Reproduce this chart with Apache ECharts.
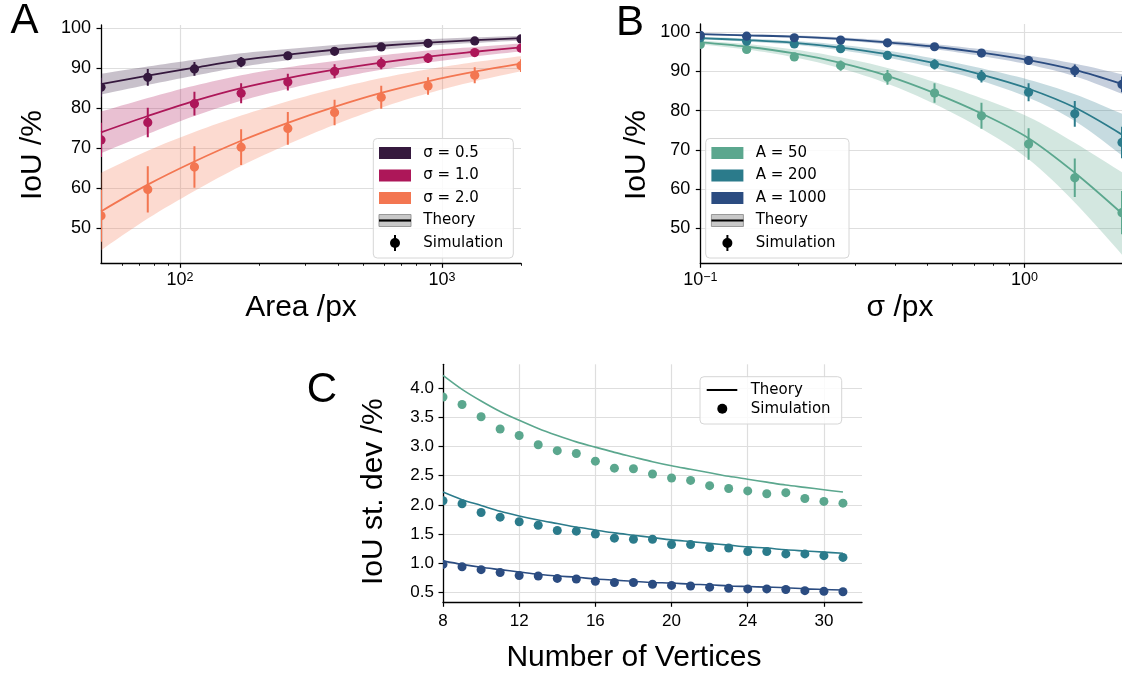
<!DOCTYPE html>
<html>
<head>
<meta charset="utf-8">
<title>IoU panels</title>
<script src="https://cdn.jsdelivr.net/npm/echarts@6.0.0/dist/echarts.min.js"></script>
<style>
  html, body { margin: 0; padding: 0; background: #ffffff; }
  #chart { width: 1122px; height: 676px; }
</style>
</head>
<body>
<div id="chart"></div>
<script>
// ---- panel A : IoU against area, one curve per sigma ----
const areaX = [50, 75.4, 113.6, 171.2, 258, 389, 586, 884, 1332, 2000];
const sigmaNames = ['σ = 0.5', 'σ = 1.0', 'σ = 2.0'];

const simA05 = [85.2, 87.7, 89.8, 91.5, 93.1, 94.2, 95.3, 96.2, 96.8, 97.3];
const errA05 = [2.4, 2.1, 1.7, 1.3, 1.0, 0.8, 0.6, 0.5, 0.4, 0.4];
const theoryA05 = [86.0, 88.1, 90.1, 92.0, 93.4, 94.6, 95.6, 96.4, 97.0, 97.5];
const lowA05 = [83.4, 85.8, 88.1, 90.3, 92.0, 93.4, 94.6, 95.6, 96.3, 96.9];
const highA05 = [88.6, 90.4, 92.1, 93.7, 94.8, 95.8, 96.6, 97.2, 97.7, 98.1];

const simA10 = [72.0, 76.4, 81.1, 83.7, 86.5, 89.2, 91.2, 92.5, 93.9, 95.0];
const errA10 = [4.3, 3.7, 3.0, 2.5, 2.1, 1.75, 1.5, 1.25, 0.9, 0.7];
const theoryA10 = [73.9, 78.0, 81.8, 85.0, 87.5, 89.6, 91.4, 92.9, 94.1, 95.2];
const lowA10 = [68.7, 73.5, 78.0, 81.8, 84.8, 87.4, 89.6, 91.4, 92.9, 94.2];
const highA10 = [79.1, 82.5, 85.6, 88.2, 90.2, 91.8, 93.2, 94.4, 95.3, 96.2];

const simA20 = [53.0, 59.6, 65.2, 70.2, 74.9, 78.9, 82.7, 85.5, 88.2, 90.6];
const errA20 = [6.5, 5.8, 5.2, 4.5, 4.1, 3.2, 2.9, 2.2, 2.0, 1.6];
const theoryA20 = [54.1, 60.8, 66.6, 71.8, 76.3, 80.3, 83.8, 86.7, 89.1, 91.1];
const lowA20 = [44.4, 52.3, 59.2, 65.5, 70.9, 75.8, 80.1, 83.7, 86.7, 89.2];
const highA20 = [63.8, 69.3, 74.0, 78.1, 81.7, 84.8, 87.5, 89.7, 91.5, 93.0];

// ---- panel B : IoU against sigma, one curve per area ----
const sigmaX = [0.1, 0.139, 0.195, 0.271, 0.378, 0.528, 0.737, 1.03, 1.43, 2.0];
const areaNames = ['A = 50', 'A = 200', 'A = 1000'];

const simB50 = [96.9, 95.6, 93.7, 91.5, 88.5, 84.5, 78.7, 71.5, 62.9, 54.0];
const errB50 = [0.5, 0.5, 0.7, 1.3, 1.9, 2.5, 3.3, 4.0, 4.9, 5.5];
const theoryB50 = [97.4, 96.3, 94.6, 92.2, 88.9, 84.5, 79.3, 73.0, 64.2, 53.8];
const lowB50 = [96.9, 95.6, 93.6, 90.8, 86.9, 81.7, 75.4, 67.6, 56.6, 43.3];
const highB50 = [97.9, 97.0, 95.6, 93.6, 90.9, 87.3, 83.2, 78.4, 71.8, 64.3];

const simB200 = [98.6, 97.7, 97.0, 95.8, 94.1, 91.8, 88.8, 84.7, 79.2, 71.9];
const errB200 = [0.4, 0.4, 0.5, 0.6, 0.8, 1.3, 1.6, 2.3, 3.3, 4.0];
const theoryB200 = [98.5, 98.0, 97.3, 96.1, 94.4, 92.1, 89.2, 85.6, 80.8, 73.9];
const lowB200 = [98.2, 97.6, 96.8, 95.4, 93.5, 90.9, 87.6, 83.3, 77.4, 68.6];
const highB200 = [98.8, 98.4, 97.8, 96.8, 95.3, 93.3, 90.8, 87.9, 84.2, 79.2];

const simB1000 = [99.2, 99.0, 98.6, 98.0, 97.3, 96.3, 94.7, 92.8, 90.2, 86.7];
const errB1000 = [0.3, 0.3, 0.3, 0.4, 0.5, 0.6, 0.8, 1.1, 1.6, 2.0];
const theoryB1000 = [99.5, 99.2, 98.9, 98.3, 97.4, 96.3, 94.8, 92.9, 90.4, 86.8];
const lowB1000 = [99.3, 98.95, 98.6, 97.9, 96.9, 95.65, 93.95, 91.75, 88.8, 84.3];
const highB1000 = [99.7, 99.45, 99.2, 98.7, 97.9, 96.95, 95.65, 94.05, 92.0, 89.3];

// ---- panel C : st. dev against number of vertices ----
const vertices = [8, 9, 10, 11, 12, 13, 14, 15, 16, 17, 18, 19, 20, 21, 22, 23, 24, 25, 26, 27, 28, 29];
const vertexTickPos = [8, 12, 16, 20, 24, 28];
const vertexTickLabels = ['8', '12', '16', '20', '24', '30'];

const simC50 = [3.85, 3.72, 3.51, 3.30, 3.19, 3.03, 2.93, 2.88, 2.75, 2.63, 2.62, 2.53, 2.46, 2.42, 2.33, 2.28, 2.24, 2.19, 2.21, 2.11, 2.06, 2.03];
const theoryC50 = [4.22, 3.98, 3.78, 3.60, 3.45, 3.31, 3.19, 3.08, 2.99, 2.90, 2.82, 2.74, 2.67, 2.61, 2.55, 2.49, 2.44, 2.39, 2.34, 2.30, 2.26, 2.22];
const simC200 = [2.07, 2.02, 1.87, 1.79, 1.71, 1.65, 1.56, 1.55, 1.50, 1.43, 1.41, 1.41, 1.32, 1.32, 1.27, 1.26, 1.20, 1.20, 1.16, 1.16, 1.13, 1.10];
const theoryC200 = [2.22, 2.09, 1.99, 1.89, 1.81, 1.74, 1.68, 1.62, 1.57, 1.52, 1.48, 1.44, 1.40, 1.37, 1.34, 1.31, 1.28, 1.26, 1.23, 1.21, 1.19, 1.17];
const simC1000 = [0.98, 0.94, 0.89, 0.84, 0.79, 0.78, 0.74, 0.73, 0.69, 0.67, 0.67, 0.64, 0.62, 0.61, 0.59, 0.57, 0.56, 0.56, 0.55, 0.53, 0.52, 0.51];
const theoryC1000 = [1.04, 0.98, 0.93, 0.89, 0.85, 0.81, 0.78, 0.76, 0.73, 0.71, 0.69, 0.67, 0.66, 0.64, 0.63, 0.61, 0.60, 0.59, 0.58, 0.56, 0.55, 0.54];

// ticks
const iouTicks = [50, 60, 70, 80, 90, 100];
const areaMajor = [100, 1000];
const areaMinor = [60, 70, 80, 90, 200, 300, 400, 500, 600, 700, 800, 900, 2000];
const sigmaMajor = [0.1, 1];
const sigmaMinor = [0.2, 0.3, 0.4, 0.5, 0.6, 0.7, 0.8, 0.9, 2];
const sdevTicks = [0.5, 1.0, 1.5, 2.0, 2.5, 3.0, 3.5, 4.0];

const colorsA = ['#35193e', '#ad1759', '#f37651'];
const colorsB = ['#5ba78e', '#2b7b8b', '#2b4c81'];
const FONT = 'Liberation Sans';
const LEGEND_FONT = 'DejaVu Sans';

const chart = echarts.init(document.getElementById('chart'));

// Catmull-Rom sampled outline so the band edges follow the smooth theory line
function splinePoints(pts) {
  const out = [pts[0]];
  for (let i = 0; i < pts.length - 1; i++) {
    const p0 = pts[Math.max(i - 1, 0)], p1 = pts[i], p2 = pts[i + 1], p3 = pts[Math.min(i + 2, pts.length - 1)];
    for (let k = 1; k <= 8; k++) {
      const t = k / 8, t2 = t * t, t3 = t2 * t;
      out.push([0, 1].map(d => 0.5 * (2 * p1[d] + (p2[d] - p0[d]) * t +
        (2 * p0[d] - 5 * p1[d] + 4 * p2[d] - p3[d]) * t2 + (3 * p1[d] - p0[d] - 3 * p2[d] + p3[d]) * t3)));
    }
  }
  return out;
}

function bandSeries(axis, xs, low, high, color) {
  return {
    type: 'custom', xAxisIndex: axis, yAxisIndex: axis, clip: true, silent: true, z: 1,
    data: xs.map((x, i) => [x, low[i], high[i]]),
    encode: { x: 0, y: [1, 2] },
    renderItem(params, api) {
      if (params.dataIndex !== 0) return null;
      const top = splinePoints(xs.map((x, i) => api.coord([x, high[i]])));
      const bot = splinePoints(xs.map((x, i) => api.coord([x, low[i]]))).reverse();
      return { type: 'polygon', shape: { points: top.concat(bot) }, style: { fill: color, opacity: 0.27 } };
    }
  };
}

function theorySeries(axis, xs, ys, color, width) {
  return {
    type: 'line', xAxisIndex: axis, yAxisIndex: axis, silent: true, z: 3,
    data: xs.map((x, i) => [x, ys[i]]),
    smooth: 0.33, symbol: 'none', lineStyle: { color: color, width: width }
  };
}

function pointSeries(axis, xs, ys, errs, color, r) {
  return {
    type: 'custom', xAxisIndex: axis, yAxisIndex: axis, clip: true, silent: true, z: 4,
    data: xs.map((x, i) => [x, ys[i], errs ? errs[i] : 0]),
    encode: { x: 0, y: 1 },
    renderItem(params, api) {
      const x = api.value(0), y = api.value(1), e = api.value(2);
      const c = api.coord([x, y]);
      const children = [];
      if (errs) {
        const lo = api.coord([x, y - e]), hi = api.coord([x, y + e]);
        children.push({ type: 'line', shape: { x1: c[0], y1: lo[1], x2: c[0], y2: hi[1] }, style: { stroke: color, lineWidth: 2 } });
      }
      children.push({ type: 'circle', shape: { cx: c[0], cy: c[1], r: r }, style: { fill: color } });
      return { type: 'group', children: children };
    }
  };
}

const axisLine = { show: true, onZero: false, lineStyle: { color: '#000', width: 1.3 } };
const gridLine = { show: true, lineStyle: { color: '#dedede', width: 1.2 } };
function majorTicks(values) {
  return { show: true, length: 4.5, customValues: values, lineStyle: { color: '#000', width: 1.2 } };
}
function minorTicks(values) {
  return { show: true, length: 2.5, customValues: values, lineStyle: { color: '#000', width: 0.9 } };
}
const powRich = {
  b: { fontFamily: FONT, fontSize: 18, color: '#000' },
  s: { fontFamily: FONT, fontSize: 12.5, color: '#000', verticalAlign: 'top' }
};
function powLabel(v) {
  const e = Math.round(Math.log10(v));
  return '{b|10}{s|' + (e < 0 ? '\u2212' + (-e) : e) + '}';
}

function minorAxis(grid, min, max, values) {
  return {
    gridIndex: grid, type: 'log', logBase: 10, min: min, max: max, position: 'bottom',
    axisLine: { show: false }, axisTick: minorTicks(values),
    axisLabel: { show: false }, splitLine: { show: false }
  };
}

// legend drawn with graphic elements
function legendGraphics(bx, by, bw, bh, rows, colX) {
  const els = [{
    type: 'rect', z: 90, shape: { x: bx, y: by, width: bw, height: bh, r: 4 },
    style: { fill: 'rgba(255,255,255,0.85)', stroke: '#d6d6d6', lineWidth: 1 }
  }];
  rows.forEach((row, i) => {
    const cy = by + 14.5 + i * 22.5;
    const px = bx + 5.7;
    if (row.kind === 'patch') {
      els.push({ type: 'rect', z: 91, shape: { x: px, y: cy - 6, width: 32, height: 12 }, style: { fill: row.color } });
    } else if (row.kind === 'theory') {
      els.push({ type: 'rect', z: 91, shape: { x: px, y: cy - 6, width: 32, height: 12 }, style: { fill: '#c8c8c8', stroke: '#999', lineWidth: 1 } });
      els.push({ type: 'line', z: 92, shape: { x1: px, y1: cy, x2: px + 32, y2: cy }, style: { stroke: '#000', lineWidth: 2.2 } });
    } else {
      els.push({ type: 'line', z: 91, shape: { x1: px + 16, y1: cy - 8, x2: px + 16, y2: cy + 8 }, style: { stroke: '#000', lineWidth: 2 } });
      els.push({ type: 'circle', z: 92, shape: { cx: px + 16, cy: cy, r: 5 }, style: { fill: '#000' } });
    }
    els.push({
      type: 'text', z: 93, x: colX, y: cy,
      style: { text: row.label, fontFamily: LEGEND_FONT, fontSize: 15, fill: '#000', align: 'left', verticalAlign: 'middle', textAlign: 'left', textVerticalAlign: 'middle' }
    });
  });
  return els;
}

function label(str, x, y, size, rotation) {
  return {
    type: 'text', z: 95, x: x, y: y, rotation: rotation || 0,
    style: { text: str, fontFamily: FONT, fontSize: size, fill: '#000', align: 'center', verticalAlign: 'middle', textAlign: 'center', textVerticalAlign: 'middle' }
  };
}

const legendA = legendGraphics(373.3, 138.5, 140, 119.5, [
  { kind: 'patch', color: colorsA[0], label: sigmaNames[0] },
  { kind: 'patch', color: colorsA[1], label: sigmaNames[1] },
  { kind: 'patch', color: colorsA[2], label: sigmaNames[2] },
  { kind: 'theory', label: 'Theory' },
  { kind: 'sim', label: 'Simulation' }
], 423.3);
const legendB = legendGraphics(705.7, 138.5, 143.3, 119.5, [
  { kind: 'patch', color: colorsB[0], label: areaNames[0] },
  { kind: 'patch', color: colorsB[1], label: areaNames[1] },
  { kind: 'patch', color: colorsB[2], label: areaNames[2] },
  { kind: 'theory', label: 'Theory' },
  { kind: 'sim', label: 'Simulation' }
], 755.7);
const legendC = [
  { type: 'rect', z: 90, shape: { x: 700, y: 376.7, width: 141.7, height: 47.3, r: 4 }, style: { fill: 'rgba(255,255,255,0.85)', stroke: '#d6d6d6', lineWidth: 1 } },
  { type: 'line', z: 91, shape: { x1: 706.7, y1: 390, x2: 737.3, y2: 390 }, style: { stroke: '#000', lineWidth: 2 } },
  { type: 'circle', z: 91, shape: { cx: 722.3, cy: 408.7, r: 5 }, style: { fill: '#000' } },
  { type: 'text', z: 93, x: 750.7, y: 390.5, style: { text: 'Theory', fontFamily: LEGEND_FONT, fontSize: 15, fill: '#000', align: 'left', verticalAlign: 'middle', textAlign: 'left', textVerticalAlign: 'middle' } },
  { type: 'text', z: 93, x: 750.7, y: 408.7, style: { text: 'Simulation', fontFamily: LEGEND_FONT, fontSize: 15, fill: '#000', align: 'left', verticalAlign: 'middle', textAlign: 'left', textVerticalAlign: 'middle' } }
];

const series = [
  bandSeries(0, areaX, lowA05, highA05, colorsA[0]),
  bandSeries(0, areaX, lowA10, highA10, colorsA[1]),
  bandSeries(0, areaX, lowA20, highA20, colorsA[2]),
  bandSeries(1, sigmaX, lowB50, highB50, colorsB[0]),
  bandSeries(1, sigmaX, lowB200, highB200, colorsB[1]),
  bandSeries(1, sigmaX, lowB1000, highB1000, colorsB[2]),
  theorySeries(0, areaX, theoryA05, colorsA[0], 1.8),
  theorySeries(0, areaX, theoryA10, colorsA[1], 1.8),
  theorySeries(0, areaX, theoryA20, colorsA[2], 1.8),
  theorySeries(1, sigmaX, theoryB50, colorsB[0], 1.8),
  theorySeries(1, sigmaX, theoryB200, colorsB[1], 1.8),
  theorySeries(1, sigmaX, theoryB1000, colorsB[2], 1.8),
  theorySeries(2, vertices, theoryC50, colorsB[0], 1.6),
  theorySeries(2, vertices, theoryC200, colorsB[1], 1.6),
  theorySeries(2, vertices, theoryC1000, colorsB[2], 1.6),
  pointSeries(0, areaX, simA05, errA05, colorsA[0], 4.6),
  pointSeries(0, areaX, simA10, errA10, colorsA[1], 4.6),
  pointSeries(0, areaX, simA20, errA20, colorsA[2], 4.6),
  pointSeries(1, sigmaX, simB50, errB50, colorsB[0], 4.6),
  pointSeries(1, sigmaX, simB200, errB200, colorsB[1], 4.6),
  pointSeries(1, sigmaX, simB1000, errB1000, colorsB[2], 4.6),
  pointSeries(2, vertices, simC50, null, colorsB[0], 4.5),
  pointSeries(2, vertices, simC200, null, colorsB[1], 4.5),
  pointSeries(2, vertices, simC1000, null, colorsB[2], 4.5)
];

chart.setOption({
  animation: false,
  backgroundColor: '#ffffff',
  grid: [
    { left: 101, top: 25, width: 420, height: 238.3 },
    { left: 700.3, top: 24, width: 423.3, height: 239.3 },
    { left: 443, top: 364.3, width: 419, height: 238 }
  ],
  xAxis: [
    {
      gridIndex: 0, type: 'log', logBase: 10, min: 50, max: 2000,
      axisLine: axisLine, axisTick: majorTicks(areaMajor), splitLine: gridLine,
      axisLabel: { customValues: areaMajor, formatter: powLabel, rich: powRich, margin: 8 }
    },
    {
      gridIndex: 1, type: 'log', logBase: 10, min: 0.1, max: 2,
      axisLine: axisLine, axisTick: majorTicks(sigmaMajor), splitLine: gridLine,
      axisLabel: { customValues: sigmaMajor, formatter: powLabel, rich: powRich, margin: 8 }
    },
    {
      gridIndex: 2, type: 'value', min: 8, max: 30,
      axisLine: axisLine, axisTick: majorTicks(vertexTickPos), splitLine: gridLine,
      axisLabel: {
        customValues: vertexTickPos, margin: 11, fontFamily: FONT, fontSize: 17, color: '#000',
        formatter: v => vertexTickLabels[vertexTickPos.indexOf(v)]
      }
    },
    minorAxis(0, 50, 2000, areaMinor),
    minorAxis(1, 0.1, 2, sigmaMinor)
  ],
  yAxis: [
    {
      gridIndex: 0, type: 'value', min: 41.1, max: 100.8,
      axisLine: axisLine, axisTick: majorTicks(iouTicks), splitLine: gridLine,
      axisLabel: { customValues: iouTicks, margin: 10, fontFamily: FONT, fontSize: 18, color: '#000' }
    },
    {
      gridIndex: 1, type: 'value', min: 41.1, max: 102.1,
      axisLine: axisLine, axisTick: majorTicks(iouTicks), splitLine: gridLine,
      axisLabel: { customValues: iouTicks, margin: 10, fontFamily: FONT, fontSize: 18, color: '#000' }
    },
    {
      gridIndex: 2, type: 'value', min: 0.33, max: 4.41,
      axisLine: axisLine, axisTick: majorTicks(sdevTicks), splitLine: gridLine,
      axisLabel: { customValues: sdevTicks, margin: 9, fontFamily: FONT, fontSize: 17, color: '#000', formatter: v => v.toFixed(1) }
    }
  ],
  series: series,
  graphic: {
    elements: [
      label('A', 24.5, 21, 42),
      label('B', 630, 23, 42),
      label('C', 322, 390, 42),
      label('IoU /%', 32.5, 155, 30, Math.PI / 2),
      label('IoU /%', 637, 155, 30, Math.PI / 2),
      label('IoU st. dev /%', 373.3, 491.7, 30, Math.PI / 2),
      label('Area /px', 301, 308, 30),
      label('σ /px', 900, 308, 30),
      label('Number of Vertices', 634, 657.5, 30)
    ].concat(legendA, legendB, legendC)
  }
});
</script>
</body>
</html>
